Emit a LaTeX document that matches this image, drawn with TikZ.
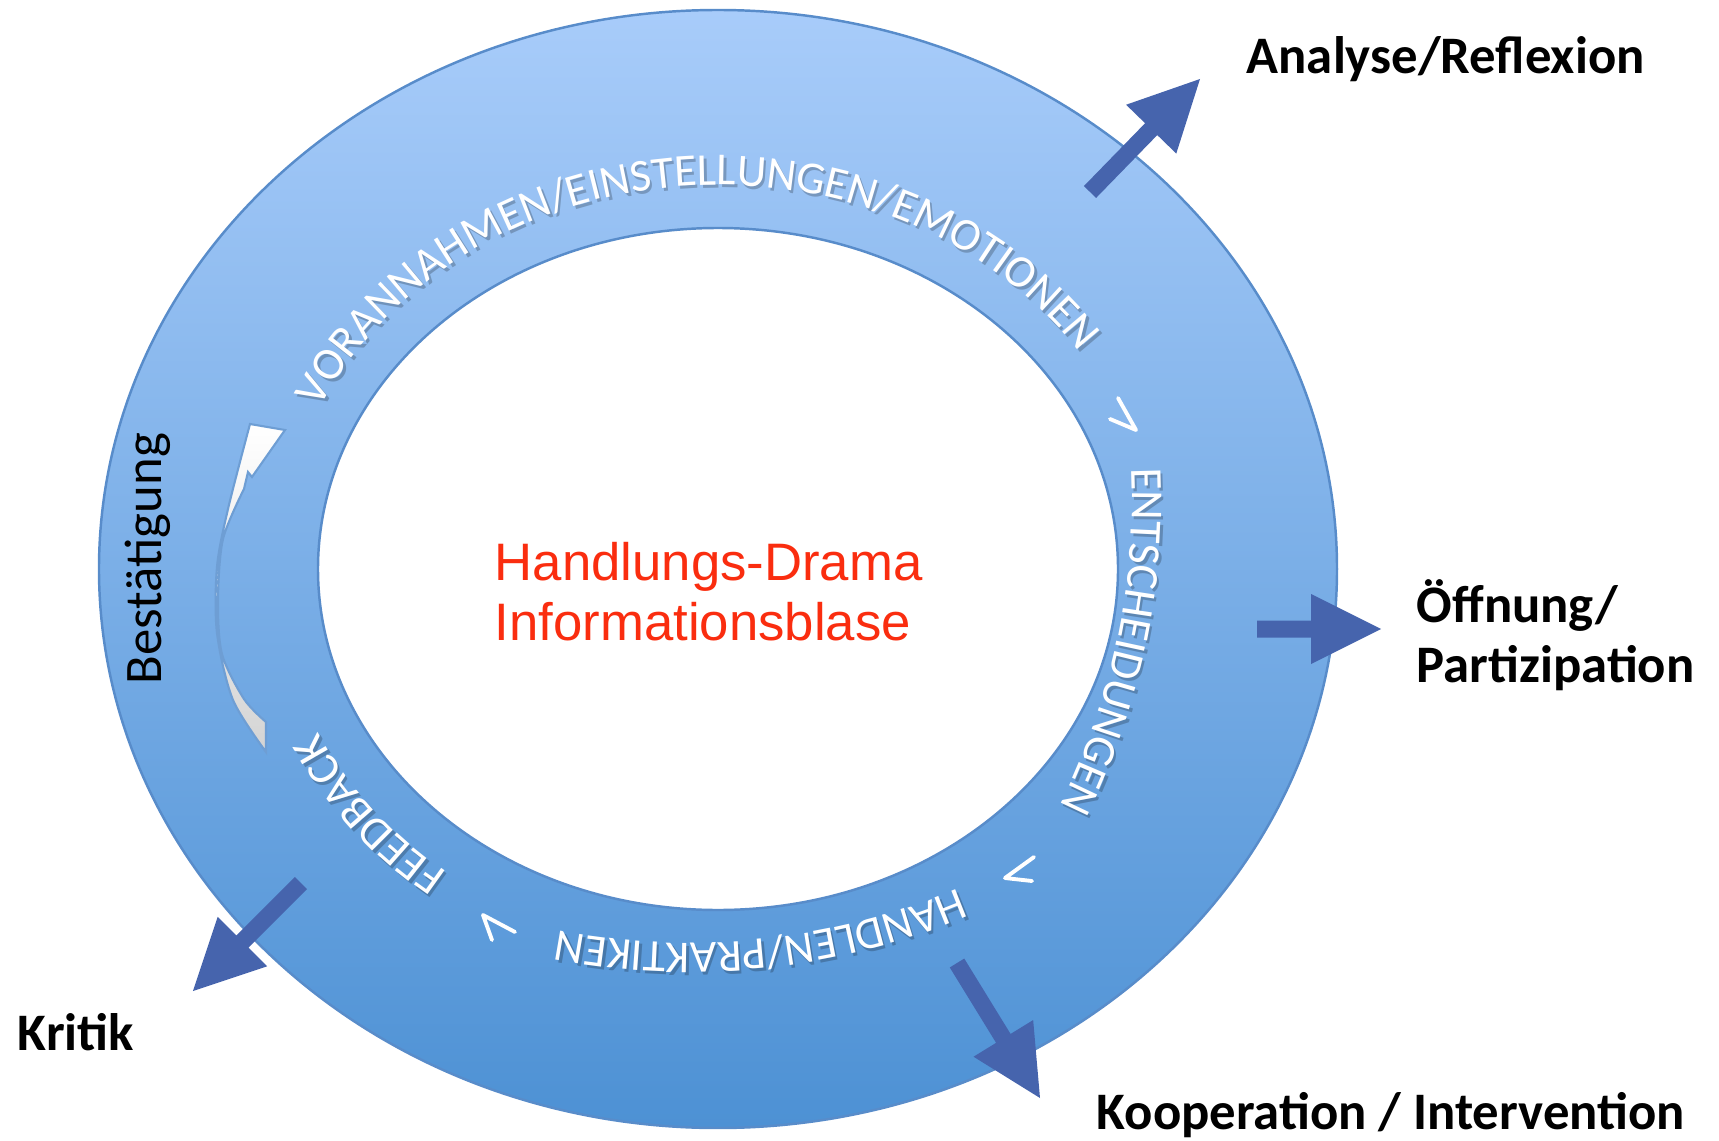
\documentclass[tikz,border=0pt]{standalone}
\usepackage{fontspec}
\setmainfont{Carlito}
\newfontfamily\ringfont{Carlito}
\newfontfamily\dramafont{Liberation Sans}
\usetikzlibrary{calc,decorations.text}

\definecolor{ringtop}{RGB}{168,204,250}
\definecolor{ringbot}{RGB}{77,145,212}
\definecolor{ringline}{RGB}{88,140,202}
\definecolor{arrowblue}{RGB}{70,100,173}
\definecolor{dramared}{RGB}{250,45,15}
\definecolor{bowline}{RGB}{110,158,212}
\definecolor{bowgray}{RGB}{212,212,212}

\newcommand\ringlabel{\ringfont\fontsize{13}{15}\selectfont\color{white}}
\newcommand\ringshade{\ringfont\fontsize{13}{15}\selectfont\color{black}}

% block arrow from #1 (tail) to #2 (tip)
\newcommand\blockarrow[2]{%
  \coordinate (hb) at ($(#2)!0.7cm!(#1)$);
  \fill[arrowblue] ($(#1)!0.085cm!90:(#2)$) -- ($(hb)!0.085cm!-90:(#1)$)
    -- ($(hb)!0.35cm!-90:(#1)$) -- (#2) -- ($(hb)!0.35cm!90:(#1)$)
    -- ($(hb)!0.085cm!90:(#1)$) -- ($(#1)!0.085cm!-90:(#2)$) -- cycle;}

% white text on the ring, with a soft shadow under it
\newcommand\ringword[3]{%
  \begin{scope}[#1]
    \begin{scope}[shift={(0.025,-0.03)}, opacity=.22]
      \path[ringshadow={#3}] #2;
    \end{scope}
    \path[ringtext={#3}] #2;
  \end{scope}}

\tikzset{
  outlabel/.style={font=\fontsize{15}{17}\selectfont\bfseries, inner sep=0pt},
  ringtext/.style={decorate, decoration={text along path, text align=center, text={|\ringlabel|#1}}},
  ringshadow/.style={decorate, decoration={text along path, text align=center, text={|\ringshade|#1}}},
  harpoon/.style={white, line width=1.1pt, line cap=round, line join=round},
  bowarrow/.style={draw=bowline, line width=0.6pt, top color=white, middle color=white, bottom color=bowgray},
}

\begin{document}
\begin{tikzpicture}
	\useasboundingbox (-7.18,-5.71) rectangle (10.01,5.69);

	% the ring
	\shade[top color=ringtop, bottom color=ringbot] (0,0) ellipse (6.19 and 5.59);
	\draw[ringline, line width=0.7pt] (0,0) ellipse (6.19 and 5.59);
	\filldraw[fill=white, draw=ringline, line width=0.7pt] (0,0) ellipse (4 and 3.41);

	% texts along the ring
	\ringword{}{(175:4.38 and 3.84) arc[start angle=175, end angle=15, x radius=4.38, y radius=3.84]}{VORANNAHMEN/EINSTELLUNGEN/EMOTIONEN}
	\ringword{shift={(-2.78,0.71)}}{(16:6.92) arc[start angle=16, end angle=-40, radius=6.92]}{ENTSCHEIDUNGEN}
	\ringword{shift={(-0.29,3.19)}}{(-52:6.93) arc[start angle=-52, end angle=-116, radius=6.93]}{HANDLEN/PRAKTIKEN}
	\ringword{}{(244:4.41 and 3.85) arc[start angle=244, end angle=192, x radius=4.41, y radius=3.85]}{FEEDBACK}

	% small arrows between the texts
	\draw[harpoon] (3.92,1.50) -- (4.18,1.39) -- (4.00,1.71);
	\draw[harpoon] (3.14,-3.12) -- (2.87,-3.09) -- (3.16,-2.88);
	\draw[harpoon] (-2.26,-3.71) -- (-2.35,-3.46) -- (-2.03,-3.63);

	% Bestaetigung bow
	\shadedraw[bowarrow] plot[smooth] coordinates {(-4.52,-1.83) (-4.85,-1.31) (-5.01,-0.64) (-5.01,0.02) (-4.90,0.60) (-4.68,1.45)}
		-- (-4.33,1.39) -- (-4.66,0.92) -- (-4.70,0.97)
		-- plot[smooth] coordinates {(-4.74,0.80) (-4.95,0.30) (-5.00,-0.31) (-4.96,-0.85) (-4.74,-1.30) (-4.52,-1.53)} -- cycle;
	\node[outlabel, font=\fontsize{15}{17}\selectfont, rotate=90, anchor=base west] (bestaetigung) at (-5.56,-1.16) {Bestätigung};

	% center
	\node[font=\dramafont\fontsize{15}{17}\selectfont, text=dramared, align=left, anchor=west, inner sep=0pt] (drama) at (-2.24,-0.23) {Handlungs-Drama\\Informationsblase};

	% outgoing arrows
	\coordinate (ana-s) at (3.72,3.77);
	\coordinate (ana-e) at (4.82,4.90);
	\coordinate (oef-s) at (5.39,-0.60);
	\coordinate (oef-e) at (6.63,-0.60);
	\coordinate (kri-s) at (-4.17,-3.14);
	\coordinate (kri-e) at (-5.25,-4.22);
	\coordinate (koo-s) at (2.39,-3.94);
	\coordinate (koo-e) at (3.22,-5.29);
	\blockarrow{ana-s}{ana-e}
	\blockarrow{oef-s}{oef-e}
	\blockarrow{kri-s}{kri-e}
	\blockarrow{koo-s}{koo-e}

	\node[outlabel, anchor=base west] (analyse) at (5.28,4.95) {Analyse/Reflexion};
	\node[outlabel, align=left, anchor=west] (oeffnung) at (6.98,-0.66) {Öffnung/\\Partizipation};
	\node[outlabel, anchor=base west] (kritik) at (-7.01,-4.81) {Kritik};
	\node[outlabel, anchor=base west] (kooperation) at (3.78,-5.60) {Kooperation / Intervention};
\end{tikzpicture}
\end{document}
